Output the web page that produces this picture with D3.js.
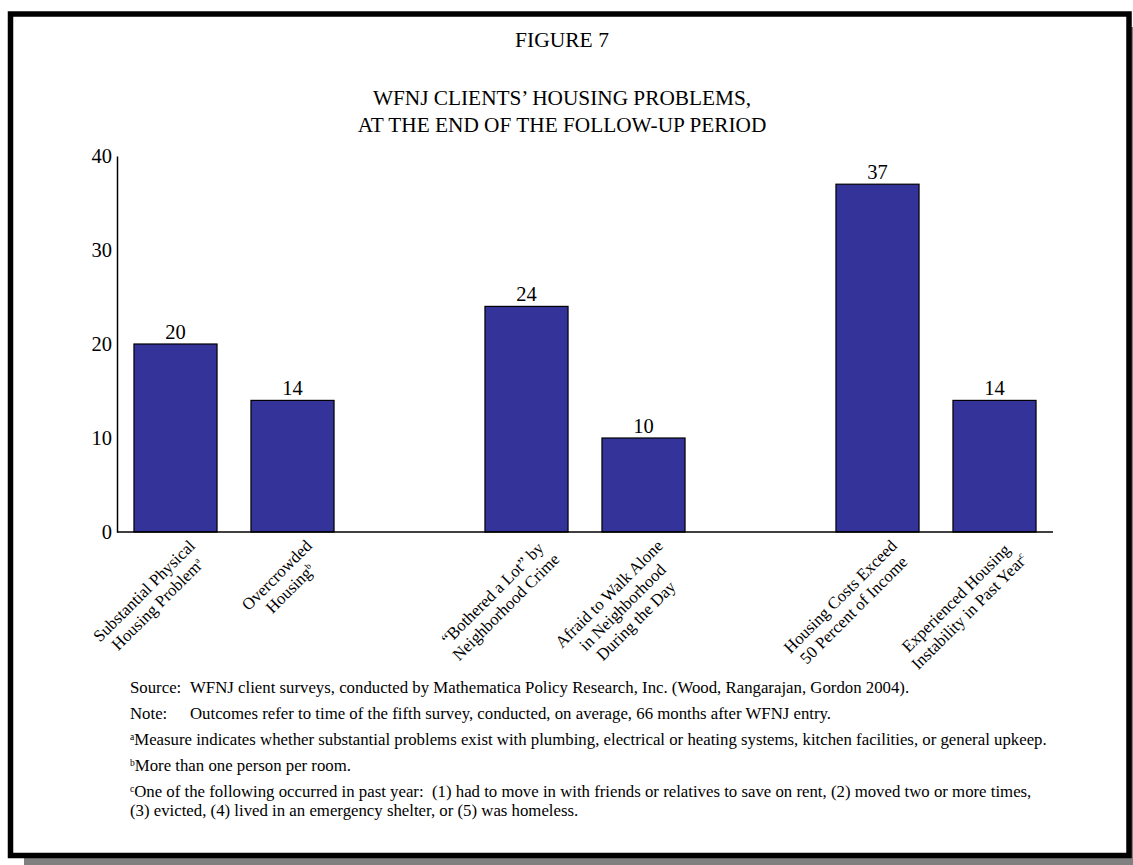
<!DOCTYPE html>
<html>
<head>
<meta charset="utf-8">
<script src="https://cdnjs.cloudflare.com/ajax/libs/d3/7.8.5/d3.min.js"></script>
<style>
  html, body { margin: 0; padding: 0; background: #fff; }
  svg text { font-family: 'Liberation Serif', 'Times New Roman', serif; fill: #000; }
</style>
</head>
<body>
<svg id="chart" width="1133" height="865"></svg>
<script>
// chart data
var categoryLines = [
  ['Substantial Physical', 'Housing Problem'],
  ['Overcrowded', 'Housing'],
  ['\u201CBothered a Lot\u201D by', 'Neighborhood Crime'],
  ['Afraid to Walk Alone', 'in Neighborhood', 'During the Day'],
  ['Housing Costs Exceed', '50 Percent of Income'],
  ['Experienced Housing', 'Instability in Past Year']
];
var categoryNotes = ['a', 'b', '', '', '', 'c'];
var values = [20, 14, 24, 10, 37, 14];
// empty slots between the three pairs of bars
var slots = ['c0', 'c1', 'gap1', 'c2', 'c3', 'gap2', 'c4', 'c5'];
var yTicks = [0, 10, 20, 30, 40];

var titleLines = ['WFNJ CLIENTS\u2019 HOUSING PROBLEMS,', 'AT THE END OF THE FOLLOW-UP PERIOD'];

var svg = d3.select('#chart');

// frame with drop shadow
svg.append('rect')
  .attr('x', 24).attr('y', 27)
  .attr('width', 1109).attr('height', 838)
  .attr('fill', '#808080');
svg.append('rect')
  .attr('x', 10.5).attr('y', 14)
  .attr('width', 1118.5).attr('height', 841.5)
  .attr('fill', '#fff')
  .attr('stroke', '#000')
  .attr('stroke-width', 5.5);

svg.append('text')
  .attr('x', 562).attr('y', 47)
  .attr('text-anchor', 'middle')
  .style('font-size', '21.5px')
  .text('FIGURE 7');

svg.selectAll('text.title')
  .data(titleLines)
  .enter().append('text')
  .attr('class', 'title')
  .attr('x', 562)
  .attr('y', (d, i) => 105 + i * 27)
  .attr('text-anchor', 'middle')
  .style('font-size', '21.3px')
  .text(d => d);

// scales
var x = d3.scaleBand()
  .domain(slots)
  .range([117, 1053])
  .paddingInner(0.29)
  .paddingOuter(0.145);

var y = d3.scaleLinear()
  .domain([0, 40])
  .range([532, 156]);

var g = svg.append('g');

g.selectAll('rect.bar')
  .data(values)
  .enter().append('rect')
  .attr('class', 'bar')
  .attr('x', (d, i) => x('c' + i))
  .attr('y', d => y(d))
  .attr('width', x.bandwidth())
  .attr('height', d => y(0) - y(d))
  .attr('fill', '#333399')
  .attr('stroke', '#000')
  .attr('stroke-width', 1.2);

g.selectAll('text.value')
  .data(values)
  .enter().append('text')
  .attr('class', 'value')
  .attr('x', (d, i) => x('c' + i) + x.bandwidth() / 2)
  .attr('y', d => y(d) - 5)
  .attr('text-anchor', 'middle')
  .style('font-size', '20.5px')
  .text(d => d);

// y axis
var yAxis = d3.axisLeft(y)
  .tickValues(yTicks)
  .tickSize(0)
  .tickPadding(5);

var yG = svg.append('g')
  .attr('transform', 'translate(117,0)')
  .call(yAxis);
yG.select('.domain').attr('stroke', '#000').attr('stroke-width', 1.5);
yG.selectAll('.tick text')
  .style('font-size', '20.5px')
  .style('font-family', "'Liberation Serif', 'Times New Roman', serif")
  .attr('fill', '#000');

// x axis line (labels are drawn rotated below)
svg.append('line')
  .attr('x1', x.range()[0]).attr('x2', x.range()[1])
  .attr('y1', y(0)).attr('y2', y(0))
  .attr('stroke', '#000')
  .attr('stroke-width', 1.5);

// rotated category labels, lines centred, block's right end at the bar centre
categoryLines.forEach(function (lines, i) {
  var cx = x('c' + i) + x.bandwidth() / 2;
  var lg = svg.append('g')
    .attr('transform', 'translate(' + cx + ',' + y(0) + ') rotate(-45)');

  var texts = lines.map(function (line, j) {
    var t = lg.append('text')
      .attr('text-anchor', 'middle')
      .attr('y', 25 + j * 19)
      .style('font-size', '16.8px')
      .text(line);
    if (j === lines.length - 1 && categoryNotes[i]) {
      t.append('tspan')
        .attr('dy', -6)
        .style('font-size', '9px')
        .text(categoryNotes[i]);
    }
    return t;
  });

  var maxW = d3.max(texts, t => t.node().getComputedTextLength());
  texts.forEach(t => t.attr('x', 4 - maxW / 2));
});

// notes under the chart
var fs = '16.8px';
var notes = svg.append('g');

notes.append('text').attr('x', 130).attr('y', 693).style('font-size', fs).text('Source:');
notes.append('text').attr('x', 190).attr('y', 693).style('font-size', fs)
  .text('WFNJ client surveys, conducted by Mathematica Policy Research, Inc. (Wood, Rangarajan, Gordon 2004).');

notes.append('text').attr('x', 130).attr('y', 719).style('font-size', fs).text('Note:');
notes.append('text').attr('x', 190).attr('y', 719).style('font-size', fs)
  .text('Outcomes refer to time of the fifth survey, conducted, on average, 66 months after WFNJ entry.');

var footnotes = [
  ['a', 'Measure indicates whether substantial problems exist with plumbing, electrical or heating systems, kitchen facilities, or general upkeep.', 745],
  ['b', 'More than one person per room.', 771],
  ['c', 'One of the following occurred in past year:  (1) had to move in with friends or relatives to save on rent, (2) moved two or more times,', 797]
];

footnotes.forEach(function (f) {
  var t = notes.append('text')
    .attr('x', 130).attr('y', f[2])
    .style('font-size', fs)
    .attr('xml:space', 'preserve');
  t.append('tspan').attr('dy', -5).style('font-size', '9.5px').text(f[0]);
  t.append('tspan').attr('dy', 5).text(f[1]);
});

notes.append('text').attr('x', 130).attr('y', 816).style('font-size', fs)
  .text('(3) evicted, (4) lived in an emergency shelter, or (5) was homeless.');
</script>
</body>
</html>
